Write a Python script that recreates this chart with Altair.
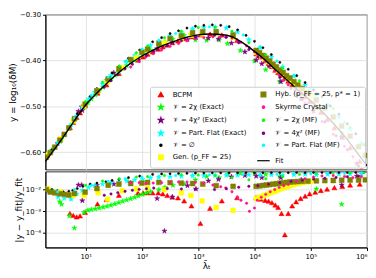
import altair as alt
import pandas as pd

# ---------------- data (log10 lambda, top-panel y, log10 residual) ----------------
BCPM_L = [0.72,0.78,0.84,0.90,0.99,1.21,1.37,1.59,1.93,2.02,2.10,2.19,2.29,2.37,2.45,2.54,2.64,2.75,2.88,3.04,3.21,3.42,3.69,4.03,4.11,4.19,4.25,4.31,4.37,4.42,4.48,4.54,4.60,4.67,4.74,4.82,4.90,4.98,5.08,5.18,5.29,5.42,5.56,5.70,5.87]
BCPM_Y = [-0.546,-0.535,-0.524,-0.514,-0.499,-0.471,-0.453,-0.428,-0.399,-0.392,-0.386,-0.381,-0.375,-0.370,-0.366,-0.361,-0.357,-0.352,-0.348,-0.344,-0.342,-0.344,-0.356,-0.385,-0.392,-0.400,-0.406,-0.413,-0.421,-0.426,-0.432,-0.438,-0.445,-0.453,-0.461,-0.471,-0.479,-0.489,-0.501,-0.513,-0.529,-0.547,-0.567,-0.590,-0.620]
BCPM_R = [-3.10,-3.19,-3.26,-3.21,-3.05,-2.66,-2.46,-2.26,-2.15,-2.15,-2.15,-2.15,-2.15,-2.19,-2.27,-2.34,-2.38,-2.52,-2.75,-3.56,-2.86,-2.52,-2.37,-2.36,-2.44,-2.49,-2.53,-2.60,-2.71,-2.82,-3.10,-4.08,-3.10,-2.75,-2.56,-2.41,-2.30,-2.19,-2.12,-2.04,-1.98,-1.91,-1.85,-1.79,-1.75]

E2X_L = [0.33,0.40,0.54,0.57,0.71,0.80,0.97,1.04,1.10,1.17,1.24,1.31,1.38,1.45,1.52,1.59,1.66,1.73,1.80,1.87,1.94,2.01,2.08,2.15,2.30,2.41,2.55,2.75,2.95,3.15,3.37,3.52,3.75,4.00,4.20,4.45,4.76,5.10,5.55]
E2X_Y = [-0.606,-0.596,-0.576,-0.572,-0.548,-0.531,-0.502,-0.492,-0.484,-0.475,-0.466,-0.458,-0.448,-0.440,-0.432,-0.425,-0.418,-0.411,-0.404,-0.399,-0.393,-0.387,-0.382,-0.377,-0.367,-0.360,-0.353,-0.345,-0.355,-0.356,-0.355,-0.363,-0.378,-0.401,-0.420,-0.446,-0.473,-0.504,-0.559]
E2X_R = [-2.00,-2.05,-2.56,-2.68,-3.22,-3.77,-3.05,-2.96,-2.92,-2.89,-2.85,-2.81,-2.77,-2.72,-2.66,-2.60,-2.54,-2.48,-2.42,-2.36,-2.29,-2.22,-2.15,-2.09,-2.00,-1.90,-1.80,-1.75,-1.55,-1.40,-1.45,-1.30,-1.25,-1.25,-1.30,-1.40,-1.66,-1.97,-2.68]

E4X_L = [0.33,0.50,0.87,0.93,0.94,1.20,1.50,1.80,2.27,2.40,2.54,2.81,2.96,3.18,3.36,3.59,3.83,4.03,4.13,4.47,4.83,5.55,5.82]
E4X_Y = [-0.607,-0.581,-0.511,-0.501,-0.509,-0.464,-0.427,-0.398,-0.374,-0.366,-0.361,-0.354,-0.349,-0.351,-0.353,-0.362,-0.381,-0.399,-0.407,-0.446,-0.484,-0.567,-0.625]
E4X_R = [-2.05,-2.15,-1.79,-1.79,-2.51,-1.80,-1.75,-1.70,-2.41,-3.91,-2.34,-1.82,-1.97,-1.60,-1.53,-1.41,-1.35,-1.38,-1.45,-1.45,-1.55,-1.79,-1.38]

EPF_L = [0.33,0.42,0.51,0.62,0.74,0.84,0.94,1.05,1.16,1.30,1.45,1.60,1.73,1.87,2.01,2.15,2.30,2.50,2.70,2.90,3.10,3.30,3.50,3.70,3.90,4.10,4.30,4.50,4.70,4.90,5.10,5.30,5.50,5.70,5.90]
EPF_Y = [-0.605,-0.593,-0.580,-0.562,-0.540,-0.521,-0.502,-0.484,-0.469,-0.451,-0.432,-0.415,-0.402,-0.389,-0.378,-0.367,-0.358,-0.346,-0.339,-0.331,-0.328,-0.327,-0.329,-0.338,-0.354,-0.372,-0.392,-0.414,-0.434,-0.453,-0.475,-0.498,-0.523,-0.550,-0.582]
EPF_R = [-1.97,-2.10,-2.34,-2.40,-2.44,-2.20,-2.04,-1.90,-1.82,-1.75,-1.70,-1.65,-1.60,-1.56,-1.53,-1.46,-1.44,-1.41,-1.39,-1.37,-1.36,-1.35,-1.34,-1.34,-1.32,-1.33,-1.32,-1.33,-1.31,-1.30,-1.32,-1.30,-1.29,-1.28,-1.28]

NUL_L = [0.30,0.40,0.50,0.60,0.70,0.77,0.85,0.95,1.08,1.20,1.36,1.47,1.59,1.76,1.96,2.19,2.35,2.50,2.65,2.80,2.95,3.10,3.25,3.40,3.55,3.70,3.85,4.00,4.15,4.30,4.45,4.60,4.75,4.90,5.05,5.20,5.35,5.50,5.65,5.80,5.95]
NUL_Y = [-0.610,-0.595,-0.580,-0.563,-0.545,-0.532,-0.516,-0.498,-0.478,-0.462,-0.442,-0.427,-0.413,-0.395,-0.377,-0.359,-0.350,-0.341,-0.335,-0.329,-0.325,-0.323,-0.322,-0.323,-0.326,-0.333,-0.345,-0.358,-0.372,-0.387,-0.404,-0.419,-0.433,-0.448,-0.464,-0.479,-0.499,-0.517,-0.538,-0.560,-0.584]
NUL_R = [-1.97,-2.00,-2.05,-2.10,-2.08,-2.04,-1.95,-1.85,-1.75,-1.70,-1.64,-1.58,-1.53,-1.45,-1.38,-1.30,-1.28,-1.27,-1.26,-1.25,-1.24,-1.24,-1.23,-1.23,-1.23,-1.23,-1.22,-1.23,-1.22,-1.22,-1.22,-1.22,-1.21,-1.22,-1.21,-1.21,-1.22,-1.21,-1.21,-1.21,-1.20]

GEN_L = [0.33,0.55,0.78,0.97,1.22,1.39,1.65,1.90,2.10,2.40,2.70,2.87,3.07,3.32,3.62,4.03,4.08,4.13,4.18,4.23,4.28,4.33,4.38,4.43,4.48,4.53,4.58,4.63,4.68,4.74,4.80,4.86,4.93,5.00]
GEN_Y = [-0.605,-0.571,-0.532,-0.499,-0.466,-0.446,-0.416,-0.394,-0.379,-0.362,-0.351,-0.345,-0.342,-0.341,-0.350,-0.382,-0.386,-0.391,-0.396,-0.401,-0.406,-0.411,-0.417,-0.422,-0.427,-0.432,-0.437,-0.442,-0.447,-0.452,-0.458,-0.463,-0.470,-0.476]
GEN_R = [-1.97,-2.10,-2.27,-2.27,-2.15,-2.44,-2.05,-1.97,-1.93,-2.00,-2.15,-2.27,-2.52,-2.82,-2.96,-2.41,-2.36,-2.31,-2.26,-2.21,-2.16,-2.11,-2.06,-2.01,-1.96,-1.91,-1.87,-1.83,-1.79,-1.75,-1.71,-1.68,-1.65,-1.62]

HYB_L = [0.30,0.37,0.45,0.54,0.62,0.70,0.80,0.99,1.20,1.40,1.59,1.80,2.00,2.10,2.30,2.50,2.70,2.90,3.08,3.32,3.62,4.03,4.09,4.15,4.21,4.27,4.33,4.39,4.45,4.51,4.57,4.63,4.70,4.77,4.85,4.95,5.10,5.25,5.40,5.55,5.70,5.85,5.97]
HYB_Y = [-0.611,-0.601,-0.589,-0.574,-0.561,-0.547,-0.527,-0.495,-0.466,-0.440,-0.418,-0.398,-0.382,-0.375,-0.363,-0.352,-0.346,-0.339,-0.337,-0.337,-0.344,-0.378,-0.383,-0.389,-0.395,-0.401,-0.408,-0.414,-0.421,-0.426,-0.433,-0.438,-0.446,-0.453,-0.461,-0.471,-0.486,-0.504,-0.523,-0.543,-0.565,-0.588,-0.607]
HYB_R = [-2.00,-2.11,-2.15,-2.19,-2.22,-2.25,-2.18,-2.12,-1.95,-1.80,-1.75,-1.72,-1.70,-1.67,-1.67,-1.68,-1.70,-1.72,-1.75,-1.82,-1.85,-1.85,-1.83,-1.81,-1.79,-1.77,-1.75,-1.73,-1.71,-1.69,-1.67,-1.65,-1.64,-1.63,-1.62,-1.61,-1.60,-1.59,-1.58,-1.57,-1.56,-1.56,-1.55]

SKY_L = [1.80,1.95,2.07,2.20,2.35,2.50,2.65,2.80,2.95,3.10,3.26,3.40,3.49,3.60,3.70,3.76,3.86,3.91,4.00,4.05,4.12,4.20,4.28,4.36,4.44,4.52,4.60,4.75,4.90,5.05,5.20,5.40,5.60,5.75,5.90]
SKY_Y = [-0.414,-0.402,-0.392,-0.385,-0.377,-0.369,-0.363,-0.357,-0.353,-0.350,-0.348,-0.348,-0.349,-0.351,-0.357,-0.360,-0.368,-0.372,-0.381,-0.386,-0.394,-0.402,-0.412,-0.422,-0.432,-0.443,-0.453,-0.473,-0.493,-0.513,-0.533,-0.561,-0.587,-0.610,-0.638]
SKY_R = [-1.70,-1.68,-1.72,-1.70,-1.68,-1.66,-1.65,-1.65,-1.66,-1.70,-1.79,-1.87,-1.92,-2.10,-2.35,-2.49,-2.63,-3.00,-2.85,-2.49,-2.35,-2.22,-2.10,-2.00,-1.90,-1.82,-1.76,-1.62,-1.50,-1.42,-1.37,-1.35,-1.40,-1.45,-1.40]

M2X_L = [1.00,1.30,1.60,1.90,2.10,2.40,2.70,3.00,3.30,3.60,3.90,4.20,4.50,4.80,5.10,5.40,5.70,5.95]
M2X_Y = [-0.489,-0.447,-0.412,-0.383,-0.368,-0.350,-0.336,-0.328,-0.327,-0.336,-0.361,-0.387,-0.417,-0.444,-0.471,-0.505,-0.546,-0.583]
M2X_R = [-1.80,-1.60,-1.50,-1.42,-1.40,-1.35,-1.32,-1.33,-1.35,-1.45,-1.55,-1.50,-1.40,-1.30,-1.25,-1.22,-1.22,-1.20]

M4X_L = [1.33,1.45,1.57,1.70,1.83,1.95,2.08,2.21,2.45,2.70,2.95,3.29,3.50,3.72,3.90,4.06,4.25,4.45,4.65,4.85,5.05,5.25,5.45,5.65,5.85]
M4X_Y = [-0.458,-0.444,-0.431,-0.418,-0.408,-0.398,-0.389,-0.380,-0.367,-0.357,-0.349,-0.345,-0.349,-0.361,-0.376,-0.392,-0.413,-0.437,-0.461,-0.485,-0.509,-0.534,-0.564,-0.595,-0.630]
M4X_R = [-2.26,-2.20,-2.14,-2.08,-2.03,-1.99,-1.96,-1.93,-1.95,-1.97,-1.98,-2.00,-1.96,-1.89,-1.85,-1.82,-1.75,-1.68,-1.62,-1.57,-1.52,-1.48,-1.44,-1.41,-1.38]

MPF_L = [0.50,0.80,1.10,1.40,1.70,2.00,2.30,2.60,2.90,3.20,3.50,3.80,4.10,4.40,4.70,5.00,5.30,5.60,5.90]
MPF_Y = [-0.580,-0.526,-0.476,-0.436,-0.402,-0.375,-0.356,-0.341,-0.330,-0.326,-0.328,-0.344,-0.370,-0.401,-0.432,-0.462,-0.496,-0.534,-0.580]
MPF_R = [-2.10,-2.00,-1.80,-1.62,-1.50,-1.42,-1.38,-1.35,-1.33,-1.32,-1.31,-1.30,-1.30,-1.29,-1.28,-1.27,-1.27,-1.26,-1.26]

FIT_L = [0.28,0.4,0.6,0.8,1.0,1.2,1.4,1.6,1.8,2.0,2.2,2.4,2.6,2.8,3.0,3.2,3.4,3.6,3.8,4.0,4.2,4.4,4.6,4.8,5.0,5.2,5.4,5.6,5.8,6.0]
FIT_Y = [-0.621,-0.601,-0.567,-0.531,-0.497,-0.471,-0.447,-0.425,-0.406,-0.390,-0.377,-0.366,-0.357,-0.349,-0.344,-0.342,-0.343,-0.348,-0.362,-0.380,-0.400,-0.423,-0.445,-0.467,-0.488,-0.511,-0.537,-0.565,-0.597,-0.630]

X_TICKS = [10, 100, 1000, 10000, 100000, 1000000]
Y_TICKS = [-0.60, -0.55, -0.50, -0.45, -0.40, -0.35, -0.30]
R_TICKS = [1e-4, 1e-3, 1e-2]

STAR = "M0,-1L0.2245,-0.309L0.951,-0.309L0.363,0.118L0.588,0.809L0,0.382L-0.588,0.809L-0.363,0.118L-0.951,-0.309L-0.2245,-0.309Z"

# name, colour, shape, size, arrays (in plotting order)
SERIES = [
    ("BCPM", "#ff0000", "triangle-up", 26, BCPM_L, BCPM_Y, BCPM_R),
    ("𝒱 = 2χ (Exact)", "#00ff00", STAR, 30, E2X_L, E2X_Y, E2X_R),
    ("𝒱 = 4χ² (Exact)", "#800080", STAR, 30, E4X_L, E4X_Y, E4X_R),
    ("𝒱 = Part. Flat (Exact)", "#00ffff", STAR, 30, EPF_L, EPF_Y, EPF_R),
    ("𝒱 = ∅", "#000000", "circle", 5, NUL_L, NUL_Y, NUL_R),
    ("Gen. (p_FF = 25)", "#ffff00", "square", 22, GEN_L, GEN_Y, GEN_R),
    ("Hyb. (p_FF = 25, p* = 1)", "#808000", "square", 24, HYB_L, HYB_Y, HYB_R),
    ("Skyrme Crystal", "#ff1493", "circle", 6, SKY_L, SKY_Y, SKY_R),
    ("𝒱 = 2χ (MF)", "#00ff00", "circle", 6, M2X_L, M2X_Y, M2X_R),
    ("𝒱 = 4χ² (MF)", "#800080", "circle", 6, M4X_L, M4X_Y, M4X_R),
    ("𝒱 = Part. Flat (MF)", "#00ffff", "circle", 6, MPF_L, MPF_Y, MPF_R),
]
FIT_ENTRY = ("Fit", "#000000", "stroke", 160)

rows = []
for name, col, shp, sz, Ls, Ys, Rs in SERIES:
    for l, y, r in zip(Ls, Ys, Rs, strict=True):
        rows.append({"series": name, "lam": 10 ** l, "y": y, "res": 10 ** r})
df = pd.DataFrame(rows)
fit_df = pd.DataFrame({"lam": [10 ** l for l in FIT_L], "y": FIT_Y})

entries = [(s[0], s[1], s[2], s[3]) for s in SERIES] + [FIT_ENTRY]
LEG = [e[0] for e in entries]
LEG_COL = [e[1] for e in entries]
LEG_SHP = [e[2] for e in entries]
LEG_SZ = [e[3] for e in entries]

FONT = "DejaVu Sans"
W = 326
x_scale = alt.Scale(type="log", domain=[1.93, 1e6], nice=False)

legend = alt.Legend(title=None, orient="bottom-right", columns=2, offset=2,
                    fillColor="rgba(255,255,255,0.82)", strokeColor="#cccccc",
                    padding=4, cornerRadius=2, rowPadding=2.2, columnPadding=8,
                    labelFontSize=7, labelFont=FONT, labelLimit=200,
                    symbolStrokeWidth=1.2, labelOffset=5)


def enc(leg):
    return dict(
        fill=alt.Fill("series:N", scale=alt.Scale(domain=LEG, range=LEG_COL), legend=leg),
        stroke=alt.Stroke("series:N", scale=alt.Scale(domain=LEG, range=LEG_COL), legend=leg),
        shape=alt.Shape("series:N", scale=alt.Scale(domain=LEG, range=LEG_SHP), legend=leg),
        size=alt.Size("series:N", scale=alt.Scale(type="ordinal", domain=LEG, range=LEG_SZ), legend=leg),
    )


pts_top = alt.Chart(df).mark_point(filled=True, opacity=1, strokeWidth=0.5, clip=True).encode(
    x=alt.X("lam:Q", scale=x_scale,
            axis=alt.Axis(values=X_TICKS, labels=False, ticks=False, domain=False, title=None, grid=True)),
    y=alt.Y("y:Q", scale=alt.Scale(domain=[-0.638, -0.30], nice=False, zero=False),
            axis=alt.Axis(values=Y_TICKS, format=".2f", title="y = log₁₀(δM̅)", grid=True)),
    **enc(legend),
)
fit_line = alt.Chart(fit_df).mark_line(color="black", strokeWidth=1.4, clip=True, interpolate="monotone").encode(
    x=alt.X("lam:Q", scale=x_scale),
    y=alt.Y("y:Q"),
)
top = alt.layer(pts_top, fit_line).properties(width=W, height=157)

bottom = alt.Chart(df).mark_point(filled=True, opacity=1, strokeWidth=0.5, clip=True).encode(
    x=alt.X("lam:Q", scale=x_scale,
            axis=alt.Axis(values=X_TICKS, title="λ̄ₜ", grid=True,
                          labelExpr="'10' + ['⁰','¹','²','³','⁴','⁵','⁶'][round(log(datum.value)/LN10)]",
                          labelFlush=True)),
    y=alt.Y("res:Q", scale=alt.Scale(type="log", domain=[2.14e-5, 0.0676], nice=False),
            axis=alt.Axis(values=R_TICKS, title="|y − y_fit|/y_fit", titleLimit=200,
                          labelExpr="'10⁻' + ['⁰','¹','²','³','⁴','⁵'][round(-log(datum.value)/LN10)]")),
    **enc(None),
).properties(width=W, height=77)

chart = alt.vconcat(top, bottom, spacing=0).resolve_scale(
    x="shared", y="independent", fill="independent", stroke="independent",
    shape="independent", size="independent",
).properties(padding=0).configure_view(
    stroke="black", strokeWidth=0.8
).configure_axis(
    labelFont=FONT, titleFont=FONT, labelFontSize=7, titleFontSize=9,
    titleFontWeight="normal", gridColor="#dddddd", gridWidth=0.8,
    tickColor="black", domainColor="black", labelColor="black", titleColor="black",
    tickSize=3, labelPadding=2, titlePadding=2,
).configure_legend(labelFont=FONT)

chart.save("out.html", embed_options={"renderer": "svg", "actions": False})
